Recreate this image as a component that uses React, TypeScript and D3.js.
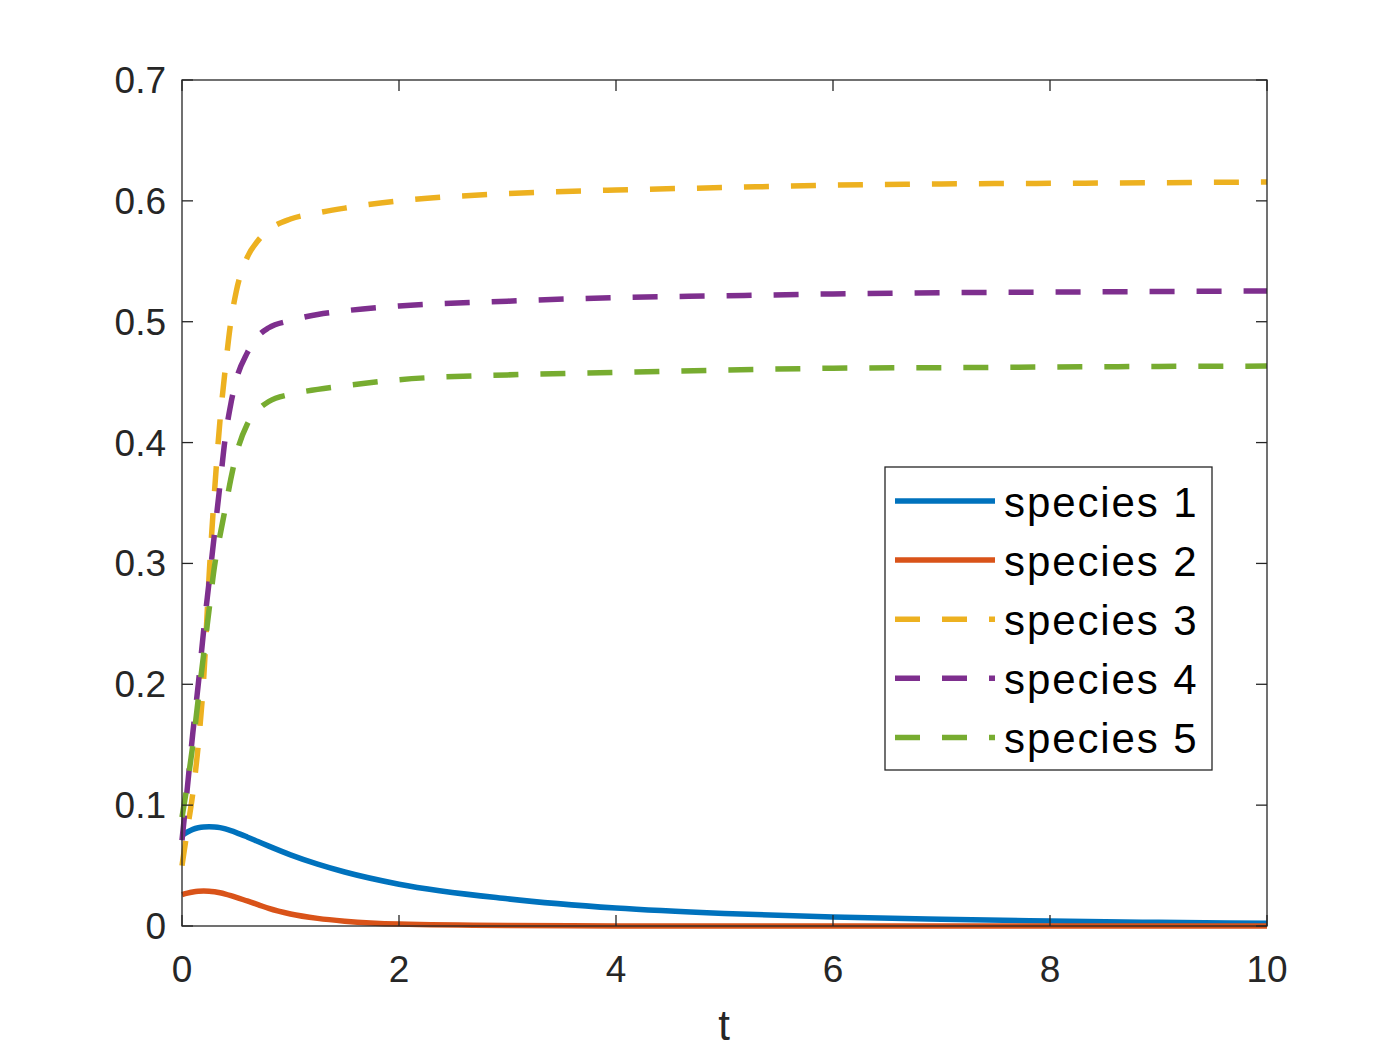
import React, { useRef, useEffect } from 'react';
import * as d3 from 'd3';

// time samples shared by all species
const tValues = [0, 0.05, 0.1, 0.15, 0.2, 0.25, 0.3, 0.35, 0.4, 0.45, 0.5, 0.6, 0.7, 0.8, 1.0, 1.25, 1.5, 2, 3, 4, 5, 6, 7, 8, 9, 10];

const species1 = [0.075, 0.0778, 0.08, 0.0813, 0.082, 0.0822, 0.082, 0.0814, 0.0803, 0.0789, 0.0773, 0.0737, 0.0699, 0.0661, 0.0589, 0.0512, 0.0447, 0.0346, 0.0225, 0.0148, 0.0103, 0.0074, 0.0055, 0.0041, 0.003, 0.0022];
const species2 = [0.026, 0.0272, 0.0281, 0.0287, 0.0289, 0.0288, 0.0283, 0.0275, 0.0264, 0.0251, 0.0237, 0.0207, 0.0177, 0.0145, 0.0099, 0.0063, 0.004, 0.0016, 0.0004, 0.0001, 0, 0, 0, 0, 0, 0];
const species3 = [0.05, 0.08, 0.11, 0.15, 0.205, 0.29, 0.36, 0.418, 0.462, 0.5, 0.525, 0.553, 0.567, 0.576, 0.585, 0.59, 0.594, 0.6, 0.606, 0.609, 0.611, 0.613, 0.614, 0.6145, 0.615, 0.6156];
const species4 = [0.071, 0.115, 0.16, 0.2, 0.245, 0.285, 0.325, 0.365, 0.405, 0.432, 0.452, 0.474, 0.488, 0.495, 0.501, 0.506, 0.509, 0.513, 0.517, 0.52, 0.5215, 0.523, 0.524, 0.5245, 0.525, 0.5254];
const species5 = [0.09, 0.118, 0.15, 0.188, 0.225, 0.262, 0.298, 0.323, 0.346, 0.37, 0.39, 0.415, 0.427, 0.434, 0.44, 0.444, 0.447, 0.452, 0.456, 0.458, 0.46, 0.4615, 0.462, 0.4625, 0.463, 0.4633];

const seriesNames = ['species 1', 'species 2', 'species 3', 'species 4', 'species 5'];
const seriesValues = [species1, species2, species3, species4, species5];
const seriesColors = ['#0072BD', '#D95319', '#EDB120', '#7E2F8E', '#77AC30'];
const seriesDashed = [false, false, true, true, true];

const xTicks = [0, 2, 4, 6, 8, 10];
const yTicks = [0, 0.1, 0.2, 0.3, 0.4, 0.5, 0.6, 0.7];

const WIDTH = 1400;
const HEIGHT = 1050;
const AXIS_COLOR = '#262626';
const FONT = '"Liberation Sans", Arial, Helvetica, sans-serif';

function SpeciesChart() {
  const svgRef = useRef<SVGSVGElement>(null);

  useEffect(() => {
    if (!svgRef.current) return;
    const svg = d3.select(svgRef.current);
    svg.selectAll('*').remove();

    const left = 182;
    const right = 1267;
    const top = 80;
    const bottom = 926;

    const x = d3.scaleLinear().domain([0, 10]).range([left, right]);
    const y = d3.scaleLinear().domain([0, 0.7]).range([bottom, top]);

    const line = d3.line<number>()
      .x((_, i) => x(tValues[i]))
      .y((d) => y(d))
      .curve(d3.curveMonotoneX);

    // data lines
    seriesValues.forEach((vals, i) => {
      svg.append('path')
        .datum(vals)
        .attr('fill', 'none')
        .attr('stroke', seriesColors[i])
        .attr('stroke-width', 5.5)
        .attr('stroke-dasharray', seriesDashed[i] ? '25 22' : null)
        .attr('d', line);
    });

    // axes box
    svg.append('rect')
      .attr('x', left)
      .attr('y', top)
      .attr('width', right - left)
      .attr('height', bottom - top)
      .attr('fill', 'none')
      .attr('stroke', AXIS_COLOR)
      .attr('stroke-width', 1.3);

    const tickLen = 11;

    // x ticks (bottom and top, inward)
    xTicks.forEach((t) => {
      const xp = x(t);
      svg.append('line')
        .attr('x1', xp).attr('x2', xp)
        .attr('y1', bottom).attr('y2', bottom - tickLen)
        .attr('stroke', AXIS_COLOR).attr('stroke-width', 1.3);
      svg.append('line')
        .attr('x1', xp).attr('x2', xp)
        .attr('y1', top).attr('y2', top + tickLen)
        .attr('stroke', AXIS_COLOR).attr('stroke-width', 1.3);
      svg.append('text')
        .attr('x', xp)
        .attr('y', 982)
        .attr('text-anchor', 'middle')
        .attr('font-family', FONT)
        .attr('font-size', 37)
        .attr('fill', AXIS_COLOR)
        .text(String(t));
    });

    // y ticks (left and right, inward)
    yTicks.forEach((v) => {
      const yp = y(v);
      svg.append('line')
        .attr('x1', left).attr('x2', left + tickLen)
        .attr('y1', yp).attr('y2', yp)
        .attr('stroke', AXIS_COLOR).attr('stroke-width', 1.3);
      svg.append('line')
        .attr('x1', right).attr('x2', right - tickLen)
        .attr('y1', yp).attr('y2', yp)
        .attr('stroke', AXIS_COLOR).attr('stroke-width', 1.3);
      svg.append('text')
        .attr('x', 166)
        .attr('y', yp + 13)
        .attr('text-anchor', 'end')
        .attr('font-family', FONT)
        .attr('font-size', 37)
        .attr('fill', AXIS_COLOR)
        .text(v === 0 ? '0' : v.toFixed(1));
    });

    // x axis label
    svg.append('text')
      .attr('x', 724)
      .attr('y', 1040)
      .attr('text-anchor', 'middle')
      .attr('font-family', FONT)
      .attr('font-size', 42)
      .attr('fill', AXIS_COLOR)
      .text('t');

    // legend
    const legend = svg.append('g');
    legend.append('rect')
      .attr('x', 885)
      .attr('y', 467)
      .attr('width', 327)
      .attr('height', 303)
      .attr('fill', '#ffffff')
      .attr('stroke', AXIS_COLOR)
      .attr('stroke-width', 1.3);

    seriesNames.forEach((name, i) => {
      const cy = 501 + i * 59.1;
      legend.append('line')
        .attr('x1', 895).attr('x2', 995)
        .attr('y1', cy).attr('y2', cy)
        .attr('stroke', seriesColors[i])
        .attr('stroke-width', 5.5)
        .attr('stroke-dasharray', seriesDashed[i] ? '25 22' : null);
      legend.append('text')
        .attr('x', 1004)
        .attr('y', cy + 16)
        .attr('font-family', FONT)
        .attr('font-size', 42)
        .attr('letter-spacing', 1.9)
        .attr('fill', '#000000')
        .text(name);
    });
  }, []);

  return (
    <svg
      ref={svgRef}
      width={WIDTH}
      height={HEIGHT}
      style={{ position: 'absolute', left: 0, top: 0, background: '#ffffff' }}
    />
  );
}

export default function App() {
  return <SpeciesChart />;
}
